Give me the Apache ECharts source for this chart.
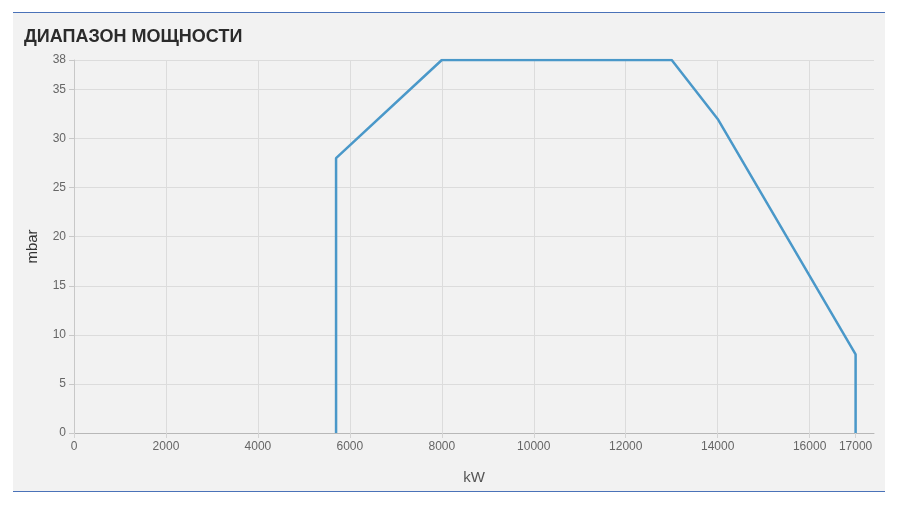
<!DOCTYPE html>
<html>
<head>
<meta charset="utf-8">
<script src="https://cdn.jsdelivr.net/npm/echarts@6/dist/echarts.min.js"></script>
<style>
  html, body { margin: 0; padding: 0; background: #fff; }
  #panel {
    position: absolute; left: 13px; top: 12px; width: 872px; height: 478px;
    background: #f2f2f2; border-top: 1px solid #4a72b8; border-bottom: 1px solid #4a72b8;
  }
  #chart { position: absolute; left: 0; top: 0; width: 900px; height: 505px; }
</style>
</head>
<body>
<div id="panel"></div>
<div id="chart"></div>
<script>
// данные кривой мощности (kW, mbar)
const powerKw = [5700, 5700, 8000, 13000, 14000, 17000, 17000];
const pressureMbar = [0, 28, 38, 38, 32, 8, 0];
const xTickLabels = [0, 2000, 4000, 6000, 8000, 10000, 12000, 14000, 16000, 17000];

const gridColor = '#dcdcdc';

const chart = echarts.init(document.getElementById('chart'));
chart.setOption({
  backgroundColor: 'transparent',
  animation: false,
  title: {
    text: 'ДИАПАЗОН МОЩНОСТИ',
    left: 19, top: 23,
    textStyle: { fontFamily: 'Liberation Sans, Arial, sans-serif', fontSize: 18, fontWeight: 'bold', color: '#2b2b2b' }
  },
  grid: { left: 74, right: 26, top: 60, bottom: 72 },
  xAxis: {
    type: 'value',
    min: 0, max: 17400, interval: 1000,
    name: 'kW', nameLocation: 'middle', nameGap: 37,
    nameTextStyle: { fontFamily: 'Liberation Sans, Arial', fontSize: 15, color: '#555' },
    axisLine: { show: true, lineStyle: { color: '#b8b8b8' } },
    axisTick: { show: true, length: 5, customValues: xTickLabels, lineStyle: { color: '#d4d4d4' } },
    axisLabel: {
      customValues: xTickLabels, margin: 8,
      formatter: (v) => String(v),
      fontFamily: 'Liberation Sans, Arial', fontSize: 12, color: '#666'
    },
    splitLine: { show: true, showMaxLine: false, lineStyle: { color: gridColor, width: 1 } }
  },
  yAxis: {
    type: 'value',
    min: 0, max: 38, interval: 5,
    name: 'mbar', nameLocation: 'middle', nameGap: 34,
    nameTextStyle: { fontFamily: 'Liberation Sans, Arial', fontSize: 15, color: '#333' },
    axisLine: { show: true, lineStyle: { color: '#c8c8c8' } },
    axisTick: { show: true, length: 5, lineStyle: { color: '#c8c8c8' } },
    axisLabel: { margin: 8, fontFamily: 'Liberation Sans, Arial', fontSize: 12, color: '#666' },
    splitLine: { show: true, lineStyle: { color: gridColor } }
  },
  series: [{
    type: 'line',
    data: powerKw.map((x, i) => [x, pressureMbar[i]]),
    showSymbol: false,
    symbol: 'none',
    lineStyle: { color: '#4a98c9', width: 2.5 },
    itemStyle: { color: '#4a98c9' }
  }]
});
</script>
</body>
</html>
